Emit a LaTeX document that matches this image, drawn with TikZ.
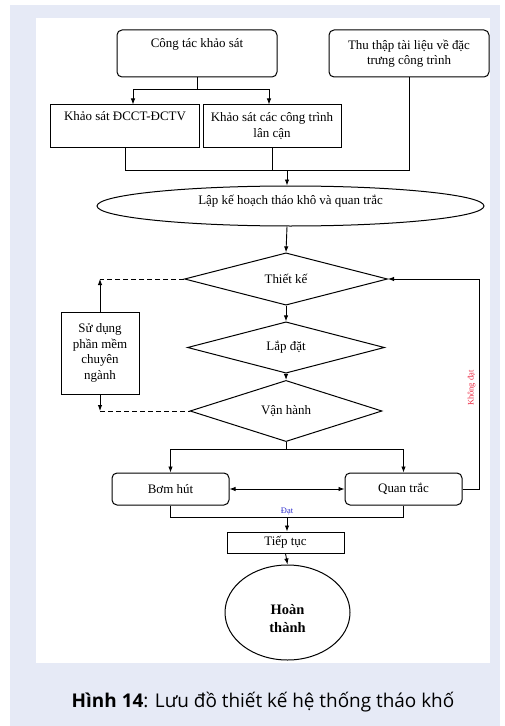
\documentclass[tikz,border=0pt]{standalone}
\usepackage{fontspec}
\setmainfont{Liberation Serif}
\newfontfamily\capfont{Open Sans}
\usepackage{tikz}
\usetikzlibrary{arrows.meta, positioning, calc}
\usetikzlibrary{shapes.geometric}
\definecolor{panelbg}{RGB}{230,234,246}
\definecolor{okblue}{RGB}{45,45,205}
\definecolor{failred}{RGB}{238,45,70}

\tikzset{
	box/.style={draw, line width=1bp, align=center, inner sep=2bp, font=\fontsize{13}{15.5}\selectfont},
	rbox/.style={box, rounded corners=5bp},
	dia/.style={draw, diamond, line width=1bp, inner sep=0pt, font=\fontsize{13}{15.5}\selectfont},
	oval/.style={draw, ellipse, line width=1bp, inner sep=0pt, align=center},
	line/.style={line width=0.9bp},
	arr/.style={line, -{Latex[length=6bp,width=4.5bp]}},
	darr/.style={line, {Latex[length=6bp,width=4.5bp]}-{Latex[length=6bp,width=4.5bp]}},
	dashline/.style={line, dash pattern=on 5bp off 3bp},
	note/.style={font=\fontsize{8.5}{10}\selectfont, inner sep=1.5bp}
}

\begin{document}
\begin{tikzpicture}[x=1bp, y=-1bp]
	% page and panel
	\useasboundingbox (0,0) rectangle (505,726);
	\fill[white] (0,0) rectangle (505,726);
	\fill[panelbg] (10,5) rectangle (500,726);
	\fill[white] (36,18) rectangle (490,663);

	% top row
	\node[rbox, minimum width=160bp, minimum height=47bp] (survey) at (197,53.5) {Công tác khảo sát\\\strut};
	\node[rbox, minimum width=160bp, minimum height=47bp] (collect) at (409,53.5) {Thu thập tài liệu về đặc\\trưng công trình};
	\node[box, minimum width=148bp, minimum height=42bp] (geo) at (125,126) {Khảo sát ĐCCT-ĐCTV\\\strut};
	\node[box, minimum width=138bp, minimum height=42bp] (near) at (272,126) {Khảo sát các công trình\\lân cận};
	\node[oval, minimum width=387bp, minimum height=40bp, font=\fontsize{13}{15.5}\selectfont] (plan) at (290.5,206) {Lập kế hoạch tháo khô và quan trắc\\[-4bp]};

	% design loop
	\node[dia, minimum width=203bp, minimum height=52bp] (design) at (286,279) {Thiết kế};
	\node[dia, minimum width=197bp, minimum height=43bp] (install) at (286,347.5) {Lắp đặt};
	\node[dia, minimum width=192bp, minimum height=46bp] (operate) at (286,411) {Vận hành};
	\node[box, minimum width=78bp, minimum height=82bp] (software) at (100,353) {Sử dụng\\phần mềm\\chuyên\\ngành};

	% bottom
	\node[rbox, minimum width=117bp, minimum height=32bp] (pump) at (170.5,489) {Bơm hút};
	\node[rbox, minimum width=117bp, minimum height=32bp] (monitor) at (403.5,489) {Quan trắc};
	\node[box, minimum width=117bp, minimum height=21bp, inner sep=0pt] (next) at (285.5,542.5) {Tiếp tục};
	\node[oval, minimum width=125bp, minimum height=95bp, font=\fontsize{14.5}{18}\selectfont\bfseries] (done) at (287.5,612.5) {\rule{0pt}{23bp}Hoàn\\thành};

	% caption
	\node[font=\capfont\fontsize{19}{22}\selectfont] (caption) at (263,702) {\textbf{Hình 14}: Lưu đồ thiết kế hệ thống tháo khố};

	% connectors
	\coordinate (split) at (197,89);
	\draw[line] (survey.south) -- (split);
	\draw[arr] (split) -| ([xshift=8bp]geo.north);
	\draw[arr] (split) -| ([xshift=-3bp]near.north);
	\coordinate (merge) at (287,170);
	\draw[line] (geo.south) |- (collect.south |- merge) -- (collect.south);
	\draw[line] (near.south) -- (near.south |- merge);
	\draw[arr] (merge) -- (merge |- plan.north);
	\draw[arr] (merge |- plan.south) -- (design.north);
	\draw[arr] (design.south) -- (install.north);
	\draw[arr] (install.south) -- (operate.north);

	\coordinate (swtop) at (software.north |- design.west);
	\coordinate (swbot) at (software.south |- operate.west);
	\draw[dashline] (design.west) -- (swtop);
	\draw[arr] (software.north) -- (swtop);
	\draw[arr] (software.south) -- (swbot);
	\draw[dashline] (swbot) -- (operate.west);

	\coordinate (fork) at (286,449);
	\draw[line] (operate.south) -- (fork);
	\draw[arr] (fork) -| (pump.north);
	\draw[arr] (fork) -| (monitor.north);
	\draw[darr] (pump.east) -- (monitor.west);
	\draw[arr] (monitor.east) -- ++(16.5,0) |- (design.east)
		node[note, pos=0.24, rotate=90, anchor=south, text=failred, inner sep=3bp] {Không đạt};

	\coordinate (pass) at (287,517);
	\draw[line] (pump.south) |- (monitor.south |- pass) -- (monitor.south);
	\draw[arr] (pass) node[note, above, text=okblue] {Đạt} -- (pass |- next.north);
	\draw[arr] (next.south) -- (done.north);
\end{tikzpicture}
\end{document}
